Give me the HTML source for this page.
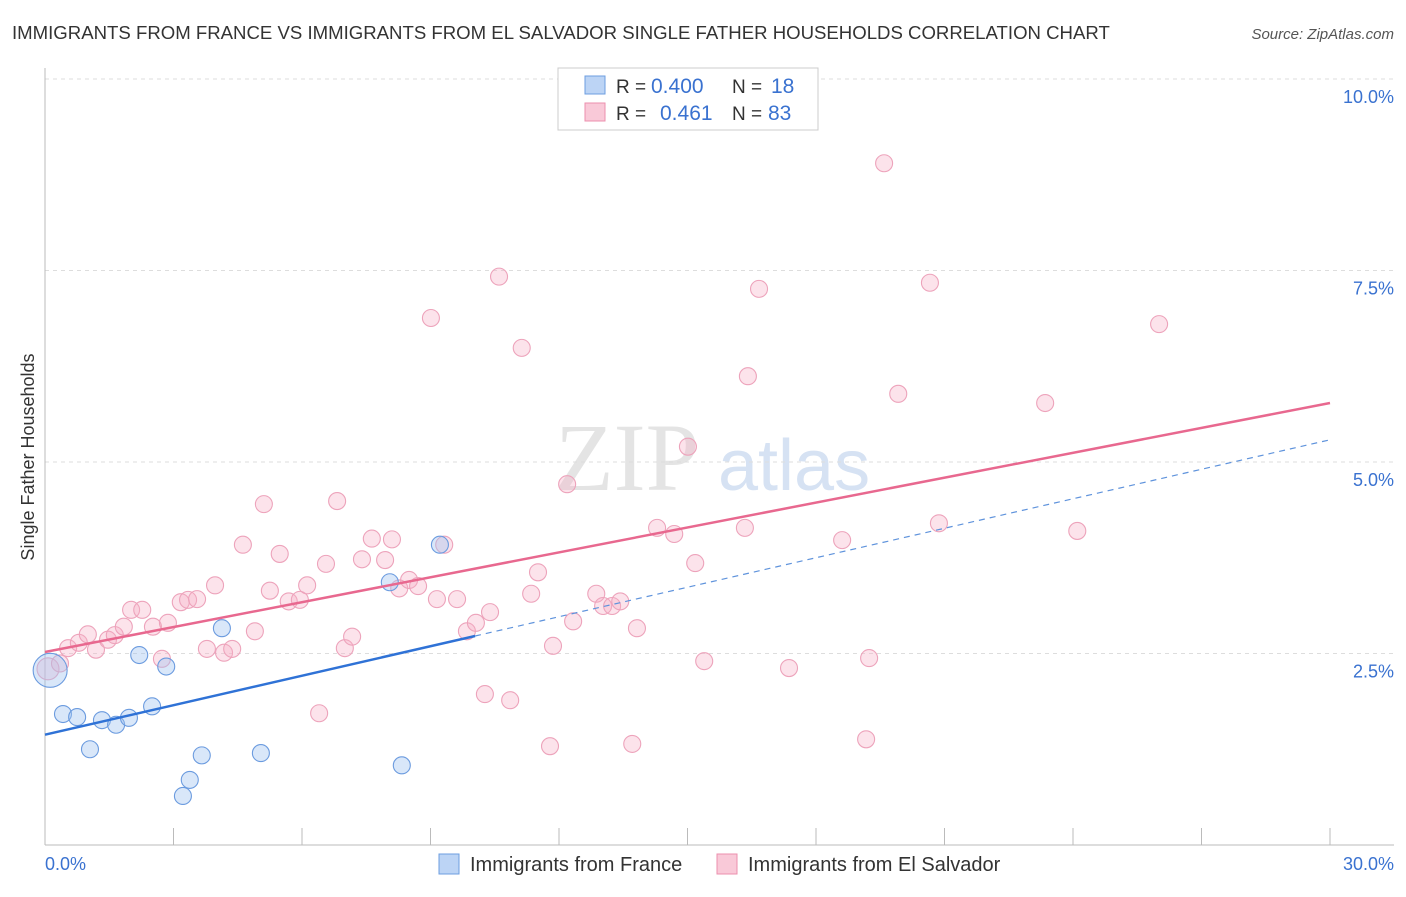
<!DOCTYPE html>
<html><head><meta charset="utf-8"><style>
body{margin:0;background:#fff;font-family:"Liberation Sans",sans-serif;}
</style></head><body>
<svg width="1406" height="892" xmlns="http://www.w3.org/2000/svg" font-family="Liberation Sans, sans-serif">
<text x="12" y="39" font-size="18.6" fill="#333">IMMIGRANTS FROM FRANCE VS IMMIGRANTS FROM EL SALVADOR SINGLE FATHER HOUSEHOLDS CORRELATION CHART</text>
<text x="1394" y="39" font-size="15" fill="#555" text-anchor="end" font-style="italic">Source: ZipAtlas.com</text>
<g>
<text x="555" y="490" font-size="96" fill="#e4e4e4" font-family="Liberation Serif, serif">ZIP</text>
<text x="718" y="490" font-size="72" fill="#d6e2f3">atlas</text>
</g>
<g id="grid"></g>
<g id="axes"></g>
<g id="marks"></g>
<text transform="translate(34,457) rotate(-90)" font-size="18" fill="#333" text-anchor="middle">Single Father Households</text>
<g>
<rect x="558" y="68" width="260" height="62" fill="#fff" stroke="#ccc"/>
<rect x="585" y="76" width="20" height="18" fill="#bcd4f5" stroke="#6c9ee0"/>
<rect x="585" y="103" width="20" height="18" fill="#f9c9d8" stroke="#ec8fae"/>
<text x="616" y="93" font-size="19" fill="#333">R = </text>
<text x="651" y="93" font-size="21" fill="#3a72d0">0.400</text>
<text x="732" y="93" font-size="19" fill="#333">N = </text>
<text x="771" y="93" font-size="21" fill="#3a72d0">18</text>
<text x="616" y="120" font-size="19" fill="#333">R = </text>
<text x="660" y="120" font-size="21" fill="#3a72d0">0.461</text>
<text x="732" y="120" font-size="19" fill="#333">N = </text>
<text x="768" y="120" font-size="21" fill="#3a72d0">83</text>
</g>
<g>
<rect x="439" y="854" width="20" height="20" fill="#bcd4f5" stroke="#6c9ee0"/>
<text x="470" y="871" font-size="20" fill="#333">Immigrants from France</text>
<rect x="717" y="854" width="20" height="20" fill="#f9c9d8" stroke="#ec8fae"/>
<text x="748" y="871" font-size="20" fill="#333">Immigrants from El Salvador</text>
</g>
</svg>
<script>
const yTicks=[2.5,5.0,7.5,10.0];
const yTickLabels=["2.5%","5.0%","7.5%","10.0%"];
const xTicks=[0,3,6,9,12,15,18,21,24,27,30];
const franceX=[0.12,0.42,0.75,1.05,1.33,1.66,1.96,2.5,2.2,2.83,3.22,3.38,3.66,4.13,5.04,8.05,8.33,9.22];
const franceY=[2.28,1.71,1.67,1.25,1.63,1.57,1.66,1.81,2.48,2.33,0.64,0.85,1.17,2.83,1.2,3.43,1.04,3.92];
const salvX=[0.07,0.35,0.54,0.79,1.0,1.19,1.47,1.63,1.84,2.01,2.27,2.52,2.73,2.87,3.17,3.34,3.55,3.78,3.97,4.18,4.37,4.62,4.9,5.11,5.25,5.48,5.69,5.95,6.12,6.4,6.56,6.82,7.0,7.17,7.4,7.63,7.94,8.1,8.27,8.5,8.71,9.01,9.15,9.32,9.62,9.85,10.06,10.27,10.39,10.6,10.86,11.13,11.35,11.51,11.79,11.86,12.19,12.33,12.87,13.03,13.24,13.43,13.71,13.82,14.29,14.69,15.01,15.18,15.39,16.34,16.41,16.67,17.37,18.61,19.17,19.24,19.59,19.92,20.66,20.87,23.35,24.1,26.01];
const salvY=[2.3,2.37,2.57,2.64,2.75,2.55,2.68,2.74,2.85,3.07,3.07,2.85,2.43,2.9,3.17,3.2,3.21,2.56,3.39,2.51,2.56,3.92,2.79,4.45,3.32,3.8,3.18,3.2,3.39,1.72,3.67,4.49,2.57,2.72,3.73,4.0,3.72,3.99,3.35,3.46,3.38,6.88,3.21,3.92,3.21,2.79,2.9,1.97,3.04,7.42,1.89,6.49,3.28,3.56,1.29,2.6,4.71,2.92,3.28,3.12,3.12,3.18,1.32,2.83,4.14,4.06,5.2,3.68,2.4,4.14,6.12,7.26,2.31,3.98,1.38,2.44,8.9,5.89,7.34,4.2,5.77,4.1,6.8];
const pinkLine=[2.52,5.77];
const blueLine=[1.44,5.29];
const blueSolidEnd=10.04;
const NS="http://www.w3.org/2000/svg";
const X=v=>45+v*(1285/30);
const Y=v=>845-v*76.6;
function mk(tag,attrs,parent){const e=document.createElementNS(NS,tag);for(const k in attrs)e.setAttribute(k,attrs[k]);document.getElementById(parent).appendChild(e);return e;}
yTicks.forEach((t,i)=>{
 const g=mk('line',{x1:45,x2:1394,y1:Y(t),y2:Y(t),stroke:'#ddd','stroke-dasharray':'4,4'},'grid');
 
 
 const l=mk('text',{x:1394,y:Y(t)+24,'font-size':18,fill:'#3a72d0','text-anchor':'end'},'axes');
 l.textContent=yTickLabels[i];
 
 
});
const ya=mk('line',{x1:45,x2:45,y1:68,y2:845,stroke:'#bbb'},'axes');


const xa=mk('line',{x1:45,x2:1394,y1:845,y2:845,stroke:'#bbb'},'axes');


xTicks.forEach(t=>{
 const k=mk('line',{x1:X(t),x2:X(t),y1:828,y2:845,stroke:'#bbb'},'axes');
 
 
});
[[0,'0.0%','start',45],[30,'30.0%','end',1394]].forEach(a=>{
 const l=mk('text',{x:a[3],y:870,'font-size':18,fill:'#3a72d0','text-anchor':a[2]},'axes');
 l.textContent=a[1];
 
 
});
salvX.forEach((x,i)=>{
 const c=mk('circle',{cx:X(x),cy:Y(salvY[i]),r:i==0?11:8.5,fill:'rgba(246,176,198,0.35)',stroke:'#eda3bb','stroke-width':1.1},'marks');
 
 
});
franceX.forEach((x,i)=>{
 const c=mk('circle',{cx:X(x),cy:Y(franceY[i]),r:i==0?17:8.5,fill:'rgba(160,196,240,0.4)',stroke:'#6b9bdf','stroke-width':1.1},'marks');
 
 
});
const bl=t=>blueLine[0]+(blueLine[1]-blueLine[0])*t/30;
const pl=mk('line',{x1:X(0),y1:Y(pinkLine[0]),x2:X(30),y2:Y(pinkLine[1]),stroke:'#e8688f','stroke-width':2.5},'marks');


const b1=mk('line',{x1:X(0),y1:Y(bl(0)),x2:X(blueSolidEnd),y2:Y(bl(blueSolidEnd)),stroke:'#2f72d6','stroke-width':2.5},'marks');


const b2=mk('line',{x1:X(blueSolidEnd),y1:Y(bl(blueSolidEnd)),x2:X(30),y2:Y(bl(30)),stroke:'#5f93dc','stroke-width':1.2,'stroke-dasharray':'6,5'},'marks');


</script>
</body></html>
